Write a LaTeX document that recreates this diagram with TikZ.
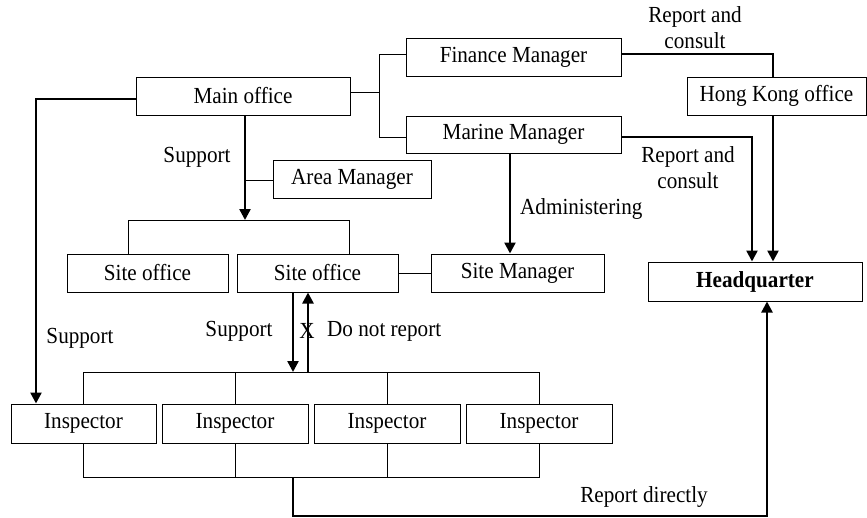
\documentclass[tikz,border=0pt]{standalone}
\usepackage{fontspec}
\setmainfont{Liberation Serif}[FakeStretch=0.92]
\usetikzlibrary{arrows.meta}
\begin{document}
\begin{tikzpicture}[x=1pt,y=-1pt,
  every node/.style={font=\fontsize{23}{26}\selectfont, inner sep=0pt},
  box/.style={draw, line width=1pt, minimum height=38, fill=white},
  thinline/.style={line width=1pt},
  thickline/.style={line width=2.4pt},
  thickarrow/.style={line width=2.4pt, -{Triangle[length=11pt,width=11pt]}},
  lbl/.style={align=center}]
\useasboundingbox (0,0) rectangle (867,517);

% boxes
\node[box, minimum width=214] (main) at (243,96) {Main office};
\node[box, minimum width=215] (fin) at (513.5,57) {Finance Manager};
\node[box, minimum width=215, minimum height=37] (mar) at (513.5,134.5) {Marine Manager};
\node[box, minimum width=179] (hk) at (776.5,96) {Hong Kong office};
\node[box, minimum width=158] (area) at (352,179) {Area Manager};
\node[box, minimum width=161] (site1) at (147.5,273) {Site office};
\node[box, minimum width=161] (site2) at (317.5,273) {Site office};
\node[box, minimum width=173] (sm) at (517.5,273) {Site Manager};
\node[box, minimum width=214, minimum height=39] (hq) at (755,281.5) {\bfseries Headquarter};
\node[box, minimum width=145, minimum height=39] (ins1) at (83.5,423.5) {Inspector};
\node[box, minimum width=146, minimum height=39] (ins2) at (235,423.5) {Inspector};
\node[box, minimum width=146, minimum height=39] (ins3) at (387,423.5) {Inspector};
\node[box, minimum width=146, minimum height=39] (ins4) at (539,423.5) {Inspector};

% junction points
\coordinate (j1) at (379,92);
\coordinate (bt) at (379,54);
\coordinate (bb) at (379,137);
\coordinate (fh) at (773,54);
\coordinate (mh) at (752,137);
\coordinate (md) at (245,220);
\coordinate (ab) at (245,180);
\coordinate (sl) at (128,220);
\coordinate (sr) at (349,220);
\coordinate (ma) at (510,200);
\coordinate (lc) at (36,99);
\coordinate (sd) at (293,372);
\coordinate (su) at (308,372);
\coordinate (ib) at (293,477);
\coordinate (rd) at (767,516);

% main office to managers
\draw[thinline] (main.east |- j1) -- (j1);
\draw[thinline] (fin.west |- bt) -- (bt) -- (bb) -- (mar.west |- bb);

% reporting lines to headquarter
\draw[thickline] (fin.east |- fh) -- (fh) -- (fh |- hk.north);
\draw[thickarrow] (hk.south -| fh) -- (hq.north -| fh);
\draw[thickarrow] (mar.east |- mh) -- (mh) -- (hq.north -| mh);

% main office down to site offices
\draw[thickarrow] (main.south -| md) -- (md);
\draw[thinline] (ab) -- (area.west |- ab);
\draw[thinline] (site1.north -| sl) -- (sl) -- (sr) -- (site2.north -| sr);
\draw[thinline] (site2.east) -- (sm.west);

% marine manager administering site manager
\draw[thickarrow] (mar.south -| ma) -- (sm.north -| ma);

% main office support to inspectors
\draw[thickarrow] (main.west |- lc) -- (lc) -- (lc |- ins1.north);

% site office support / no report
\draw[thickarrow] (site2.south -| sd) -- (sd);
\draw[thickarrow] (su) -- (site2.south -| su);

% inspector brackets
\draw[thinline] (ins1.north) -- (ins1.north |- sd) -- (ins4.north |- sd) -- (ins4.north);
\draw[thinline] (ins2.north) -- (ins2.north |- sd);
\draw[thinline] (ins3.north) -- (ins3.north |- sd);
\draw[thinline] (ins1.south) -- (ins1.south |- ib) -- (ins4.south |- ib) -- (ins4.south);
\draw[thinline] (ins2.south) -- (ins2.south |- ib);
\draw[thinline] (ins3.south) -- (ins3.south |- ib);

% inspectors report directly
\draw[thickarrow] (ib) -- (ib |- rd) -- (rd) -- (hq.south -| rd);

% labels
\node[lbl] (l1) at (695,28) {Report and\\consult};
\node[lbl] (l2) at (688,168) {Report and\\consult};
\node (l3) at (197,157) {Support};
\node[anchor=west] (l4) at (520,209) {Administering};
\node (l5) at (80,338) {Support};
\node (l6) at (239,331) {Support};
\node (l7) at (307,331) {X};
\node[anchor=west] (l8) at (327,331) {Do not report};
\node (l9) at (644,497) {Report directly};
\end{tikzpicture}
\end{document}
